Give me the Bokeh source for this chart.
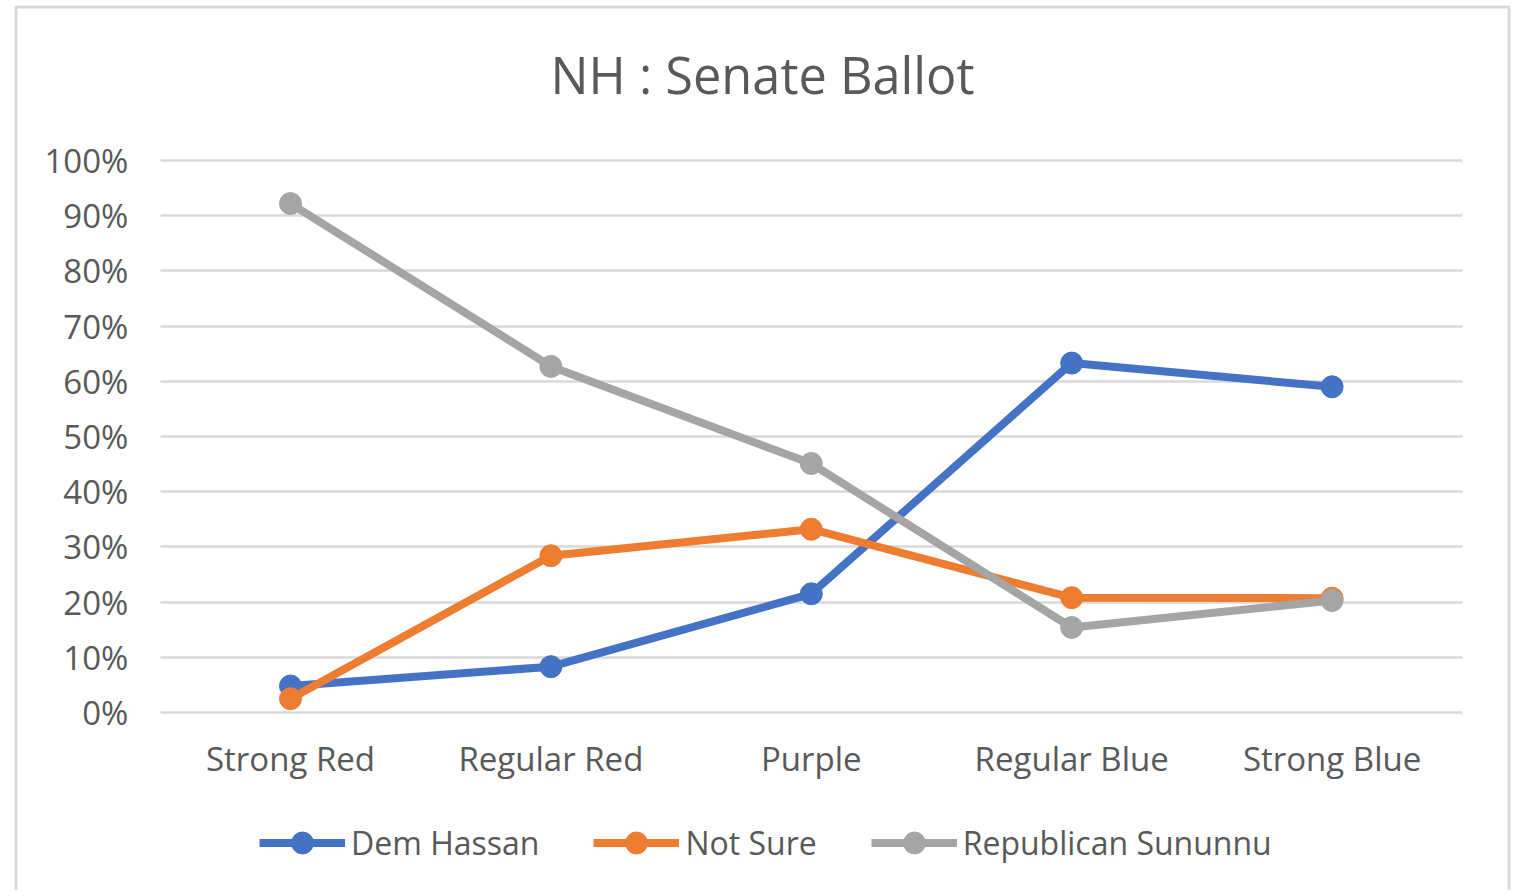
from bokeh.plotting import figure
from bokeh.models import (Legend, LegendItem, NumeralTickFormatter, FixedTicker,
                          Range1d, BoxAnnotation, Label)
from bokeh.embed import file_html
from bokeh.resources import INLINE

# ---- data ----
categories = ["Strong Red", "Regular Red", "Purple", "Regular Blue", "Strong Blue"]
dem_hassan = [0.048, 0.083, 0.215, 0.633, 0.590]
not_sure = [0.025, 0.284, 0.332, 0.208, 0.207]
rep_sununu = [0.922, 0.627, 0.451, 0.154, 0.203]
series_names = ["Dem Hassan", "Not Sure", "Republican Sununnu"]
series_colors = ["#4472C4", "#ED7D31", "#A5A5A5"]
y_ticks = [0.0, 0.1, 0.2, 0.3, 0.4, 0.5, 0.6, 0.7, 0.8, 0.9, 1.0]
title_text = "NH : Senate Ballot"

FONT = "Open Sans"
TXT = "#595959"
GRID = "#D9D9D9"

# ---- layout (pixels) ----
W, H = 1512, 890
X0_PX, X_STEP = 290.0, 260.4   # pixel of first category, spacing of categories
Y0_PX, Y_UNIT = 712.0, 552.0   # pixel of 0 %, pixels per 100 %


def xd(px):
    return (px - X0_PX) / X_STEP


def yd(py):
    return (Y0_PX - py) / Y_UNIT


xs = list(range(len(categories)))

p = figure(x_range=Range1d(xd(0), xd(W)), y_range=Range1d(yd(H), yd(0)),
           width=W, height=H, output_backend="svg", toolbar_location=None,
           title_location=None,
           min_border_left=0, min_border_right=0, min_border_top=0, min_border_bottom=0)
p.outline_line_color = None
p.background_fill_color = "white"
p.border_fill_color = "white"

# chart-area border
p.add_layout(BoxAnnotation(left=xd(15.5), right=xd(1508.5), top=yd(6.5), bottom=yd(1000),
                           fill_alpha=0, line_color=GRID, line_alpha=1,
                           line_width=3, level="underlay"))

# title
p.add_layout(Label(x=xd(762), y=yd(74), text=title_text, text_align="center",
                   text_baseline="alphabetic", text_font=FONT,
                   text_font_size="50.5px", text_color=TXT))

# axes drawn at fixed positions inside the frame
p.xaxis.fixed_location = 0
p.yaxis.fixed_location = -0.5
p.xaxis.ticker = FixedTicker(ticks=xs)
p.xaxis.major_label_overrides = {i: c for i, c in enumerate(categories)}
p.yaxis.ticker = FixedTicker(ticks=y_ticks)
p.yaxis.formatter = NumeralTickFormatter(format="0%")
for ax in (p.xaxis[0], p.yaxis[0]):
    ax.axis_line_color = None
    ax.minor_tick_line_color = None
    ax.major_tick_out = 0
    ax.minor_tick_out = 0
    ax.major_label_text_font = FONT
    ax.major_label_text_font_size = "33px"
    ax.major_label_text_color = TXT
p.xaxis.major_tick_line_color = None
p.xaxis.major_tick_in = 0
# horizontal gridlines: y-axis ticks reaching across the category area
p.yaxis.major_tick_in = int(round(len(categories) * X_STEP))
p.yaxis.major_tick_line_color = GRID
p.yaxis.major_tick_line_width = 2.5
p.yaxis.level = "underlay"
p.yaxis.major_label_standoff = 32
p.xaxis.major_label_standoff = 23

p.xgrid.grid_line_color = None
p.ygrid.grid_line_color = None

items = []
for name, vals, col in zip(series_names, [dem_hassan, not_sure, rep_sununu], series_colors):
    l = p.line(xs, vals, line_color=col, line_width=8)
    s = p.scatter(xs, vals, size=22, fill_color=col, line_color=col)
    items.append(LegendItem(label=name, renderers=[l, s]))

legend = Legend(items=items, orientation="horizontal", location=(259, 20),
                margin=0, padding=0, spacing=54, glyph_width=86, glyph_height=55,
                label_standoff=6, label_text_font=FONT, label_text_font_size="32px",
                label_text_color=TXT, border_line_color=None,
                background_fill_alpha=0)
p.add_layout(legend, "center")

open("out.html", "w").write(file_html(p, INLINE))
